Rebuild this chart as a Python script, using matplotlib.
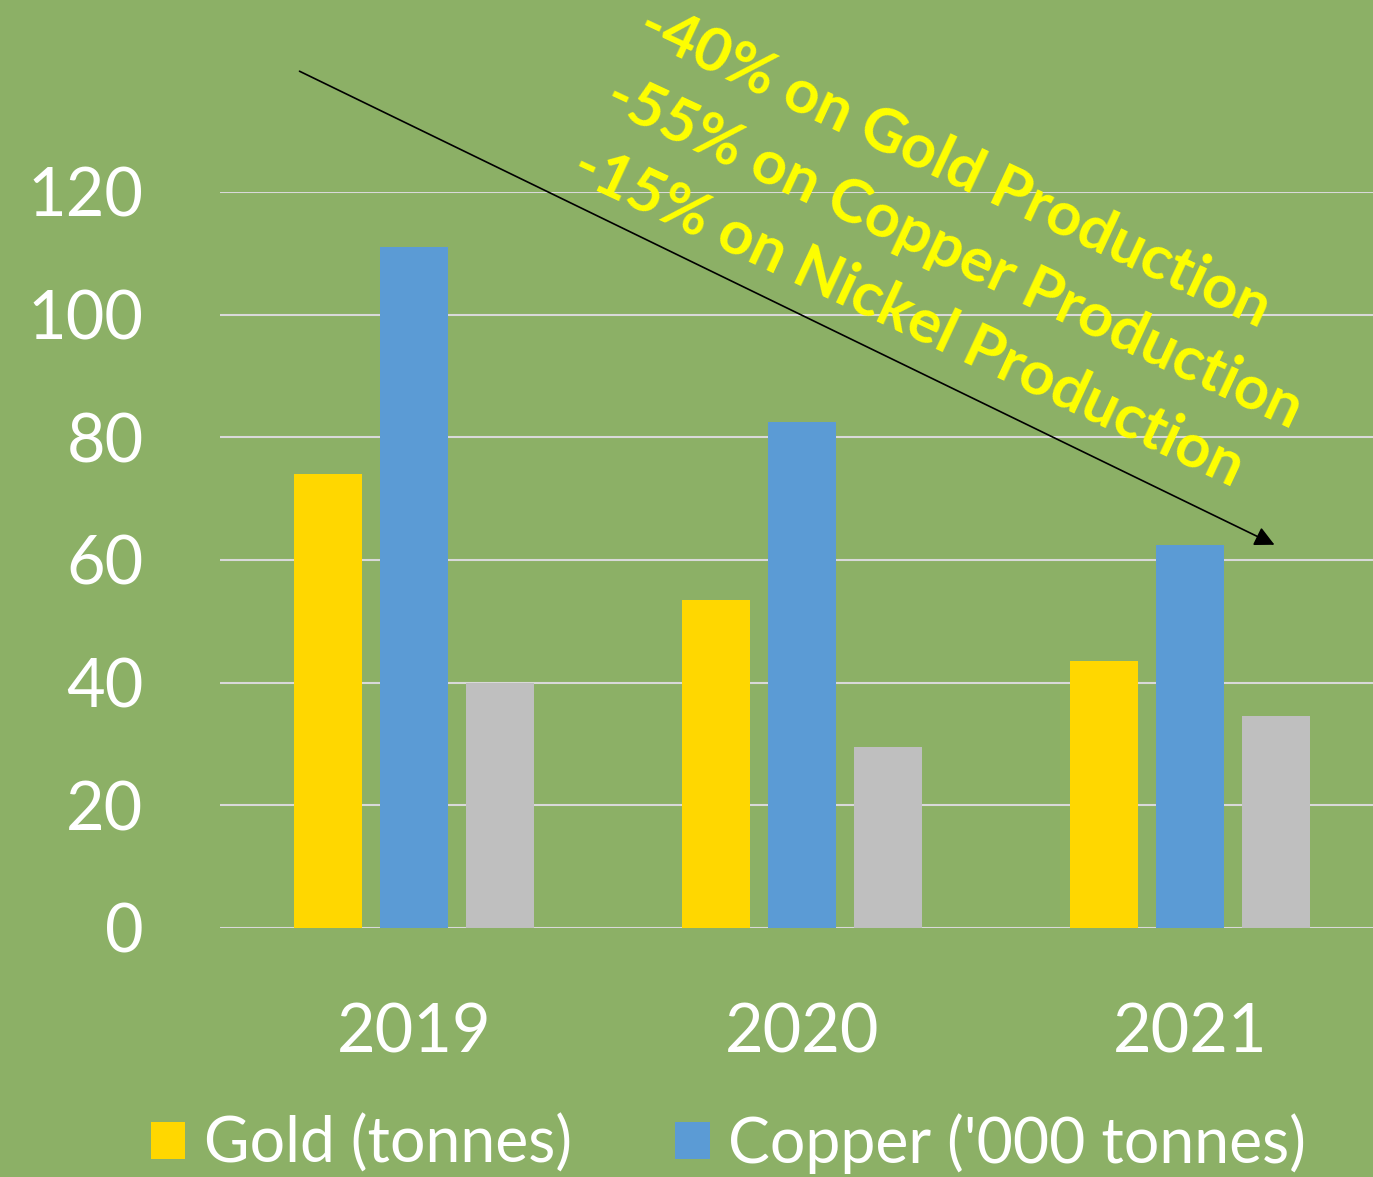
import matplotlib.pyplot as plt
import numpy as np

years = ["2019", "2020", "2021"]
gold = [74, 53.5, 43.5]
copper = [111, 82.5, 62.5]
nickel = [40, 29.5, 34.5]
series_names = ["Gold (tonnes)", "Copper ('000 tonnes)", "Nickel ('000 tonnes)"]
notes = ["-40% on Gold Production",
         "-55% on Copper Production",
         "-15% on Nickel Production"]

bg = "#8cb066"
colors = ["#ffd700", "#5b9bd5", "#bfbfbf"]

plt.rcParams['font.family'] = ['Lato', 'DejaVu Sans']

W = 1373.0
H = 1177.0

fig = plt.figure(figsize=(13.73, 11.77), dpi=100, facecolor=bg)
ax = fig.add_axes([0.1602, 0.2116, 0.8478, 0.6253], facecolor=bg)

x = np.arange(len(years))
width = 0.175
step = 0.2216
for i, vals in enumerate([gold, copper, nickel]):
    ax.bar(x + (i - 1) * step, vals, width, color=colors[i],
           label=series_names[i], zorder=3)

ax.set_xlim(-0.5, 2.5)
ax.set_ylim(0, 120)
ax.set_yticks(range(0, 121, 20))
ax.set_xticks(x)
ax.set_xticklabels(years)
ax.grid(axis="y", color="#d9d9d9", linewidth=1.5, zorder=0)
ax.set_axisbelow(True)
for s in ax.spines.values():
    s.set_visible(False)
ax.tick_params(length=0, labelsize=48, colors="white")
ax.tick_params(axis="y", pad=55)
ax.tick_params(axis="x", pad=54)

# downward trend arrow (figure pixels are measured from the bottom)
ax.annotate("", xy=(1277, H - 546), xytext=(297, H - 70),
            xycoords="figure pixels", textcoords="figure pixels",
            arrowprops=dict(arrowstyle="-|>", color="black", lw=1.2,
                            mutation_scale=30),
            annotation_clip=False)

# note centres, given from the top-left corner
note_pos = [(955, 166), (954, 252), (908, 316)]
for txt, (px, py) in zip(notes, note_pos):
    fig.text(px / W, 1 - py / H, txt, color="#ffff00", fontsize=44,
             fontweight="bold", rotation=-25, rotation_mode="anchor",
             ha="center", va="center")

fig.legend(loc="lower left", bbox_to_anchor=(0.069, -0.045), ncol=3,
           frameon=False, fontsize=45, labelcolor="white",
           handlelength=0.55, handleheight=0.55, handletextpad=0.3,
           columnspacing=1.65)

fig.savefig("out.png", dpi=100, facecolor=bg)
